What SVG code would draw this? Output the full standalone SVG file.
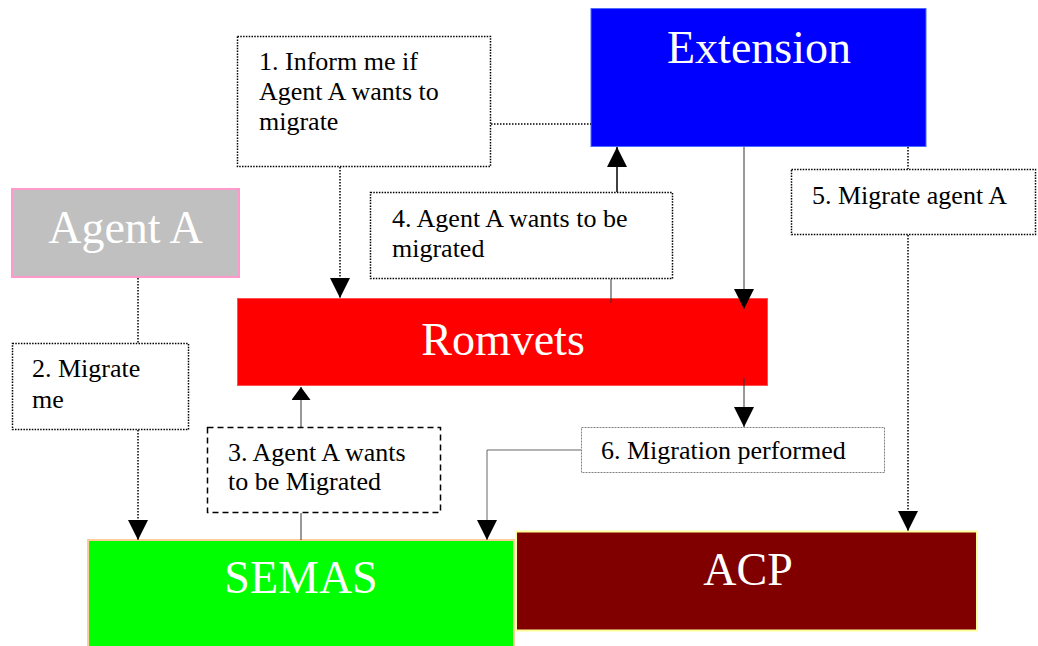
<svg xmlns="http://www.w3.org/2000/svg" width="1038" height="646" viewBox="0 0 1038 646">
  <style>
    .node-label { font-family: "Liberation Serif", "Times New Roman", serif; font-size: 46px; fill: #ffffff; text-anchor: middle; }
    .msg { font-family: "Liberation Serif", "Times New Roman", serif; font-size: 26px; fill: #000000; }
    .box-dot { fill: #ffffff; stroke: #000000; stroke-width: 1.5; stroke-dasharray: 1.5 1.3; }
    .box-dash { fill: #ffffff; stroke: #000000; stroke-width: 1.5; stroke-dasharray: 6 4; }
    .box-grey { fill: #ffffff; stroke: #808080; stroke-width: 1; stroke-dasharray: 2 1; }
    .dotted { fill: none; stroke: #000000; stroke-width: 1.5; stroke-dasharray: 1.5 1.5; }
    .solid { fill: none; stroke: #000000; stroke-width: 1.5; }
    .thin { fill: none; stroke: #333333; stroke-width: 1; }
    .grey { fill: none; stroke: #666666; stroke-width: 1; }
  </style>
  <defs>
    <marker id="arrow" viewBox="0 0 20 20" refX="20" refY="10" markerWidth="20" markerHeight="20" markerUnits="userSpaceOnUse" orient="auto">
      <path d="M0,0 L20,10 L0,20 Z" fill="#000000"/>
    </marker>
    <marker id="arrow-short" viewBox="0 0 13 19" refX="13" refY="9.5" markerWidth="13" markerHeight="19" markerUnits="userSpaceOnUse" orient="auto">
      <path d="M0,0 L13,9.5 L0,19 Z" fill="#000000"/>
    </marker>
  </defs>

  <rect width="1038" height="646" fill="#ffffff"/>

  <!-- nodes -->
  <g id="extension">
    <rect x="591" y="8.5" width="335" height="138" fill="#0000ff" stroke="#4d6bff" stroke-width="1"/>
    <text class="node-label" x="759" y="63">Extension</text>
  </g>

  <g id="agent-a">
    <rect x="12" y="189" width="227" height="88" fill="#c0c0c0" stroke="#ff99cc" stroke-width="2"/>
    <text class="node-label" x="125.5" y="243">Agent A</text>
  </g>

  <g id="romvets">
    <rect x="237.5" y="298.5" width="530" height="87" fill="#ff0000" stroke="#ff5050" stroke-width="1"/>
    <text class="node-label" x="503" y="355">Romvets</text>
  </g>

  <g id="semas">
    <rect x="88" y="540" width="426" height="110" fill="#00ff00" stroke="#ffcc99" stroke-width="2"/>
    <text class="node-label" x="301" y="593">SEMAS</text>
  </g>

  <g id="acp">
    <rect x="516" y="531.5" width="461" height="99" fill="#800000" stroke="#ffff99" stroke-width="2"/>
    <text class="node-label" x="748" y="585">ACP</text>
  </g>

  <!-- connectors, drawn over the node blocks -->
  <g id="connectors">
    <!-- 1: Extension <-> Romvets via message box 1 -->
    <line class="dotted" x1="491" y1="124" x2="591" y2="124"/>
    <line class="dotted" x1="340" y1="167" x2="340" y2="298" marker-end="url(#arrow)"/>
    <!-- 2: Agent A -> SEMAS -->
    <line class="dotted" x1="138" y1="278" x2="138" y2="343"/>
    <line class="dotted" x1="138" y1="430" x2="138" y2="540" marker-end="url(#arrow)"/>
    <!-- 3: SEMAS -> Romvets -->
    <line class="thin" x1="301" y1="427" x2="301" y2="387" marker-end="url(#arrow-short)"/>
    <line class="thin" x1="301" y1="513" x2="301" y2="540"/>
    <!-- 4: Romvets -> Extension -->
    <line class="solid" x1="617" y1="192" x2="617" y2="147" marker-end="url(#arrow)"/>
    <line class="thin" x1="611" y1="279" x2="611" y2="303"/>
    <!-- Extension -> Romvets -->
    <line class="thin" x1="744" y1="147" x2="744" y2="309" marker-end="url(#arrow)"/>
    <!-- Romvets -> message box 6 -->
    <line class="thin" x1="744" y1="378" x2="744" y2="427" marker-end="url(#arrow)"/>
    <!-- 5: Extension -> ACP -->
    <line class="dotted" x1="908" y1="147" x2="908" y2="169"/>
    <line class="dotted" x1="908" y1="235" x2="908" y2="531" marker-end="url(#arrow)"/>
    <!-- 6: message box 6 -> SEMAS -->
    <polyline class="grey" points="581,450 487,450 487,540" marker-end="url(#arrow)"/>
  </g>

  <!-- message boxes -->
  <g id="msg-1">
    <rect class="box-dot" x="237.5" y="36.5" width="253" height="130"/>
    <text class="msg" x="259" y="70">1. Inform me if</text>
    <text class="msg" x="259" y="100">Agent A wants to</text>
    <text class="msg" x="259" y="130">migrate</text>
  </g>

  <g id="msg-2">
    <rect class="box-dot" x="12.5" y="343.5" width="176" height="86"/>
    <text class="msg" x="32" y="377">2. Migrate</text>
    <text class="msg" x="32" y="408">me</text>
  </g>

  <g id="msg-3">
    <rect class="box-dash" x="207.5" y="427.5" width="233" height="85"/>
    <text class="msg" x="228" y="461">3. Agent A wants</text>
    <text class="msg" x="228" y="490">to be Migrated</text>
  </g>

  <g id="msg-4">
    <rect class="box-dot" x="370.5" y="192.5" width="302" height="86"/>
    <text class="msg" x="392" y="227">4. Agent A wants to be</text>
    <text class="msg" x="392" y="257">migrated</text>
  </g>

  <g id="msg-5">
    <rect class="box-dot" x="791.5" y="169.5" width="244" height="65"/>
    <text class="msg" x="812" y="204">5. Migrate agent A</text>
  </g>

  <g id="msg-6">
    <rect class="box-grey" x="581.5" y="427.5" width="303" height="45"/>
    <text class="msg" x="601" y="459">6. Migration performed</text>
  </g>
</svg>
